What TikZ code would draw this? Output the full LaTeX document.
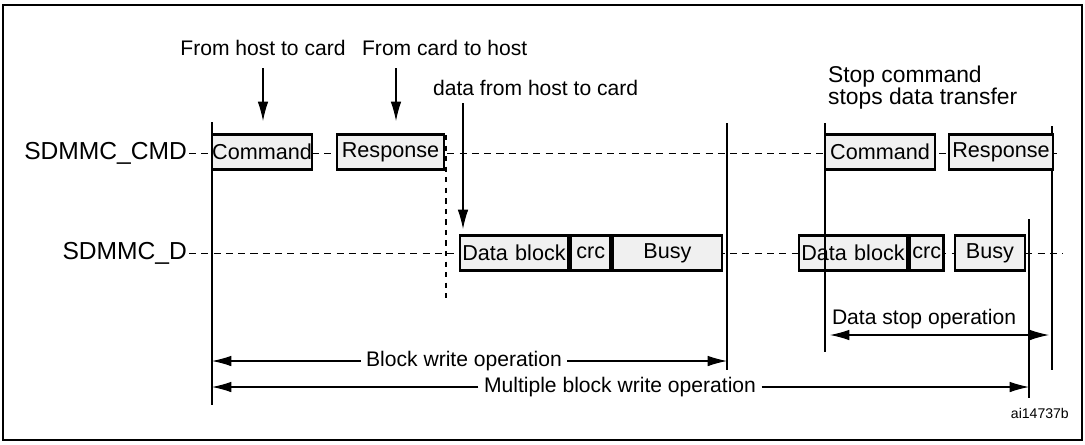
\documentclass[tikz,border=0pt]{standalone}
\usepackage{fontspec}
\setmainfont{Liberation Sans}
\usetikzlibrary{arrows.meta}
\begin{document}
\begin{tikzpicture}[x=0.02cm,y=-0.02cm,
  sig/.style={draw,line width=1.6pt,fill=black!6,minimum height=35*0.02cm,inner sep=0pt,font=\fontsize{12.3}{14}\selectfont},
  lbl/.style={font=\fontsize{12}{13.5}\selectfont,inner sep=1pt},
  dl/.style={dashed,dash pattern=on 4pt off 3pt,line width=0.5pt},
  vl/.style={line width=0.6pt},
  arr/.style={-{Latex[length=11pt,width=6pt]},line width=0.6pt}]
\useasboundingbox (0,0) rectangle (1085,444);
\draw[line width=1pt] (3,5) rectangle (1082,440);
% signal lines
\node[lbl,anchor=east,font=\fontsize{14}{16}\selectfont] (cmdl) at (189,153) {SDMMC\_CMD};
\node[lbl,anchor=east,font=\fontsize{14}{16}\selectfont] (dl) at (189,253) {SDMMC\_D};
\coordinate (cmdend) at (1062,153);
\coordinate (dend) at (1063,253);
\draw[dl] (cmdl.east) -- (cmdend);
\draw[dl] (dl.east) -- (dend);
% vertical lines
\coordinate (v1t) at (212,122); \coordinate (v1b) at (212,405);
\coordinate (v2t) at (446,135); \coordinate (v2b) at (446,300);
\coordinate (v3t) at (727,123); \coordinate (v3b) at (727,370);
\coordinate (v4t) at (825,123); \coordinate (v4b) at (825,352);
\coordinate (v5t) at (1052,126); \coordinate (v5b) at (1052,370);
\coordinate (v6t) at (1029,219); \coordinate (v6b) at (1029,398);
\draw[vl] (v1t) -- (v1b);
\draw[vl,dashed] (v2t) -- (v2b);
\draw[vl] (v3t) -- (v3b);
\draw[vl] (v5t) -- (v5b);
\draw[vl] (v6t) -- (v6b);
% CMD boxes
\node[sig,minimum width=100*0.02cm] (c1) at (262,152) {Command};
\node[sig,minimum width=107*0.02cm] (r1) at (390.5,152) {Response};
\node[sig,minimum width=110*0.02cm] (c2) at (880,152) {Command};
\node[sig,minimum width=104*0.02cm] (r2) at (1001,152) {Response};
% D boxes
\node[sig,text width=108*0.02cm,align=center] (d1) at (514,253) {Data block};
\node[sig,text width=40*0.02cm,align=center,anchor=west] (crc1) at (d1.east) {crc};
\node[sig,minimum width=109*0.02cm] (b1) at (667.5,253) {Busy};
\node[sig,text width=108*0.02cm,align=center] (d2) at (853,253) {Data block};
\node[sig,text width=34*0.02cm,align=center,anchor=west] (crc2) at (d2.east) {crc};
\node[sig,minimum width=70*0.02cm] (b2) at (990,253) {Busy};
\draw[vl] (v4t) -- (v4b);
% top labels and arrows
\node[lbl] (t1) at (263,48) {From host to card};
\node[lbl,anchor=west] (t2) at (360,48) {From card to host};
\node[lbl,anchor=west] (t3) at (431,88) {data from host to card};
\node[lbl,anchor=west,align=left,font=\fontsize{13}{12.5}\selectfont] (t4) at (826,88) {Stop command\\stops data transfer};
\coordinate (a1) at (263,121); \coordinate (a1s) at (263,68);
\coordinate (a2) at (396,121); \coordinate (a2s) at (396,68);
\coordinate (a3) at (463,229); \coordinate (a3s) at (463,103);
\draw[arr] (a1s) -- (a1);
\draw[arr] (a2s) -- (a2);
\draw[arr] (a3s) -- (a3);
% operation arrows
\node[lbl,inner xsep=3pt] (bw) at (464,361) {Block write operation};
\coordinate (bwl) at (212,361); \coordinate (bwr) at (727,361);
\draw[arr] (bw.west) -- (bwl);
\draw[arr] (bw.east) -- (bwr);
\node[lbl,inner xsep=3pt] (mw) at (620,387) {Multiple block write operation};
\coordinate (mwl) at (212,387); \coordinate (mwr) at (1029,387);
\draw[arr] (mw.west) -- (mwl);
\draw[arr] (mw.east) -- (mwr);
\coordinate (dsl) at (830,335); \coordinate (dsr) at (1049,335);
\draw[{Latex[length=11pt,width=6pt]}-{Latex[length=11pt,width=6pt]},line width=0.6pt] (dsl) -- (dsr);
\node[lbl,anchor=south] (ds) at (924,331) {Data stop operation};
\node[font=\fontsize{8}{9}\selectfont,anchor=east] (id) at (1075,413) {ai14737b};
\end{tikzpicture}
\end{document}
